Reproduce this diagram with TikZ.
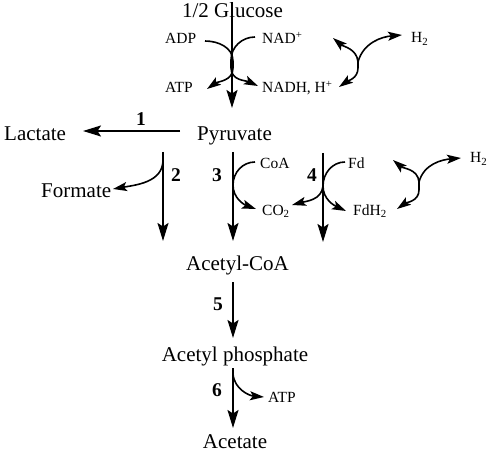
\documentclass[tikz,border=0pt]{standalone}
\usepackage{fontspec}
\setmainfont{Liberation Serif}
\usetikzlibrary{arrows.meta}
\tikzset{
  mainarr/.style={line width=1.8pt, -{Stealth[length=18pt,width=11pt,inset=3.5pt]}},
  sidearr/.style={line width=1.6pt, -{Stealth[length=14pt,width=9pt,inset=3pt]}},
  big/.style={font=\fontsize{21}{23}\selectfont, inner sep=0pt},
  small/.style={font=\fontsize{15.5}{17}\selectfont, inner sep=0pt},
  num/.style={font=\fontsize{19.5}{21}\selectfont\bfseries, inner sep=0pt},
}
\begin{document}
\begin{tikzpicture}[x=1pt,y=-1pt]
\useasboundingbox (0,0) rectangle (491,452);
% main labels
\node[big,anchor=base] (glc) at (232.5,18) {1/2 Glucose};
\node[big,anchor=base west] (lac) at (4,141) {Lactate};
\node[big,anchor=base] (pyr) at (234.5,141) {Pyruvate};
\node[big,anchor=base west] (for) at (41,197) {Formate};
\node[big,anchor=base] (acoa) at (237.5,270) {Acetyl-CoA};
\node[big,anchor=base] (ap) at (235,361) {Acetyl phosphate};
\node[big,anchor=base] (ac) at (235,448) {Acetate};
% small labels
\node[small,anchor=base west] (adp) at (165,44) {ADP};
\node[small,anchor=base west] (nad) at (262,44) {NAD\textsuperscript{+}};
\node[small,anchor=base west] (atp1) at (165,93) {ATP};
\node[small,anchor=base west] (nadh) at (262,93) {NADH, H\textsuperscript{+}};
\node[small,anchor=base west] (h2a) at (411,43) {H\textsubscript{2}};
\node[small,anchor=base west] (coa) at (260,168) {CoA};
\node[small,anchor=base west] (fd) at (348,168) {Fd};
\node[small,anchor=base west] (co2) at (262,215) {CO\textsubscript{2}};
\node[small,anchor=base west] (fdh) at (353,215) {FdH\textsubscript{2}};
\node[small,anchor=base west] (h2b) at (470,163) {H\textsubscript{2}};
\node[small,anchor=base west] (atp2) at (268,402) {ATP};
% numbers
\node[num,anchor=base] (n1) at (141,126) {1};
\node[num,anchor=base] (n2) at (176,182) {2};
\node[num,anchor=base] (n3) at (217,182) {3};
\node[num,anchor=base] (n4) at (312,182) {4};
\node[num,anchor=base] (n5) at (218,310) {5};
\node[num,anchor=base] (n6) at (217,396) {6};
% coordinates for connector ends
\coordinate (g0) at (232,2);
\coordinate (g1) at (232,108);
\coordinate (l0) at (180,131);
\coordinate (l1) at (83,131);
\coordinate (a0) at (163,152);
\coordinate (a1) at (163,241);
\coordinate (b0) at (233,152);
\coordinate (b1) at (233,241);
\coordinate (c0) at (323,153);
\coordinate (c1) at (323,242);
\coordinate (d0) at (233,282);
\coordinate (d1) at (233,338);
\coordinate (e0) at (233,368);
\coordinate (e1) at (233,428);
% main arrows
\draw[mainarr] (g0) -- (g1);
\draw[mainarr] (l0) -- (l1);
\draw[mainarr] (a0) -- (a1);
\draw[mainarr] (b0) -- (b1);
\draw[mainarr] (c0) -- (c1);
\draw[mainarr] (d0) -- (d1);
\draw[mainarr] (e0) -- (e1);
% glycolysis cofactors
\coordinate (adpE) at (205,41);
\coordinate (atpT) at (207,89);
\coordinate (nadE) at (255,37);
\coordinate (nadhT) at (258,86);
\draw[sidearr] (adpE) to[out=0,in=90] (233,61) -- (233,68) to[out=-90,in=35] (atpT);
\draw[sidearr] (nadE) to[out=180,in=90] (231,60) -- (231,68) to[out=-90,in=155] (nadhT);
% top hydrogenase
\coordinate (hc) at (358,62);
\coordinate (hTL) at (333,38);
\coordinate (hBL) at (339,87);
\coordinate (hH) at (402,35);
\draw[sidearr] (hc) to[out=95,in=-40] (hTL);
\draw[sidearr] (hc) -- (358,68) to[out=-90,in=35] (hBL);
\draw[sidearr] (hc) to[out=75,in=185] (hH);
% formate branch
\coordinate (fS) at (163,160);
\coordinate (fT) at (113,189);
\draw[sidearr] (fS) to[out=-90,in=10] (fT);
% CoA / CO2 (3)
\coordinate (coaE) at (255,162);
\coordinate (co2T) at (256,209);
\draw[sidearr] (coaE) to[out=180,in=90] (233,185) to[out=-90,in=160] (co2T);
% Fd / FdH2 (4)
\coordinate (fdE) at (345,162);
\coordinate (fdhT) at (346,211);
\coordinate (f4) at (323,186);
\coordinate (co2T2) at (292,205);
\draw[sidearr] (fdE) to[out=180,in=90] (f4) to[out=-90,in=155] (fdhT);
\draw[sidearr] (f4) to[out=-95,in=15] (co2T2);
% lower hydrogenase
\coordinate (kc) at (419,182);
\coordinate (kTL) at (393,160);
\coordinate (kBL) at (397,209);
\coordinate (kH) at (461,158);
\draw[sidearr] (kc) to[out=95,in=-40] (kTL);
\draw[sidearr] (kc) -- (419,190) to[out=-90,in=35] (kBL);
\draw[sidearr] (kc) to[out=75,in=185] (kH);
% acetate kinase ATP
\coordinate (pS) at (233,374);
\coordinate (pT) at (264,397);
\draw[sidearr] (pS) to[out=-85,in=175] (pT);
\end{tikzpicture}
\end{document}
